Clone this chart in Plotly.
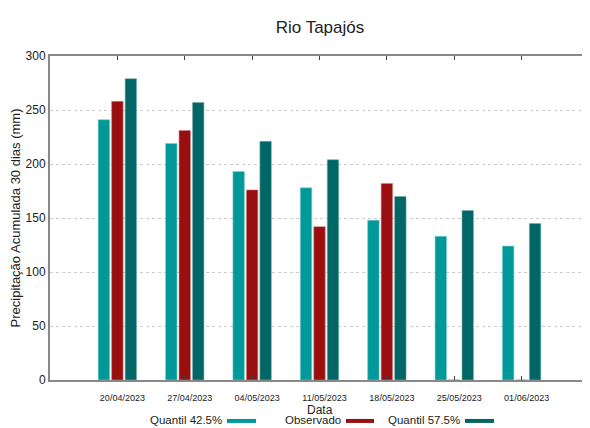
import plotly.graph_objects as go

dates = ["20/04/2023", "27/04/2023", "04/05/2023", "11/05/2023",
         "18/05/2023", "25/05/2023", "01/06/2023"]
q425 = [241, 219, 193, 178, 148, 133, 124]
observado = [258, 231, 176, 142, 182, 0, 0]
q575 = [279, 257, 221, 204, 170, 157, 145]

series_names = ["Quantil 42.5%", "Observado", "Quantil 57.5%"]
colors = ["#009999", "#990f0f", "#006666"]
edge_colors = ["#7fcccc", "#cc8787", "#7fb2b2"]

FONT = "Liberation Sans Narrow, Liberation Sans, Arial, sans-serif"

# page has an 8px body margin; plot area in page pixels: x 50..589, y 55.5..380
PL, PR, PT, PB = 50, 589, 55.5, 380


def px(x):
    return (x - PL) / (PR - PL)


def py(y):
    return (PB - y) / (PB - PT)


x_idx = list(range(len(dates)))
fig = go.Figure()
for name, vals, c, ec in zip(series_names, [q425, observado, q575], colors, edge_colors):
    fig.add_trace(go.Bar(x=x_idx, y=vals, name=name, marker_color=c,
                         marker_line_color=ec, marker_line_width=0.6,
                         showlegend=False))

fig.update_layout(
    width=582, height=420,
    margin=dict(l=PL - 8, r=590 - PR - 0, t=PT - 8, b=428 - PB, autoexpand=False),
    paper_bgcolor="white", plot_bgcolor="white",
    font=dict(family=FONT, color="#222"),
    title=dict(text="Rio Tapajós", x=(320 - 8) / 582, xanchor="center",
               y=1 - (27 - 8) / 420, yanchor="middle",
               font=dict(size=17, family=FONT, color="#222")),
    barmode="group", bargap=0.4, bargroupgap=0.15,
)
fig.update_xaxes(
    range=[-1, 7], tickmode="array", tickvals=x_idx, ticktext=dates,
    tickfont=dict(size=9, family=FONT, color="#222"),
    ticks="inside", ticklen=4, tickcolor="#444", tickwidth=1,
    showline=True, linecolor="#888", linewidth=2, mirror="ticks",
    showgrid=False, zeroline=False, ticklabelshift=5, ticklabelstandoff=8,
)
fig.update_yaxes(
    range=[0, 300], tickvals=[0, 50, 100, 150, 200, 250, 300],
    tickfont=dict(size=12, family=FONT, color="#222"),
    ticks="", showline=True, linecolor="#888", linewidth=2,
    showgrid=True, gridcolor="#cccccc", griddash="dot", gridwidth=1,
    zeroline=False,
    title=dict(text="Precipitação Acumulada 30 dias (mm)", standoff=8,
               font=dict(size=13, family=FONT, color="#222")),
)

fig.add_annotation(xref="paper", yref="paper", x=px(320), y=py(410),
                   text="Data", showarrow=False, xanchor="center", yanchor="middle",
                   font=dict(size=12, family=FONT, color="#222"))

# legend drawn below plot: text followed by colour swatch
leg_text_right = [221, 340, 459]
leg_sw = [(227, 256), (346, 374), (465, 494)]
for name, c, tx, (s0, s1) in zip(series_names, colors, leg_text_right, leg_sw):
    fig.add_annotation(xref="paper", yref="paper", x=px(tx), y=py(420),
                       text=name, showarrow=False, xanchor="right", yanchor="middle",
                       xshift=3, font=dict(size=11.5, family=FONT, color="#222"))
    fig.add_shape(type="rect", xref="paper", yref="paper",
                  x0=px(s0), x1=px(s1), y0=py(423), y1=py(419),
                  fillcolor=c, line_width=0)

fig.write_html("out.html")
